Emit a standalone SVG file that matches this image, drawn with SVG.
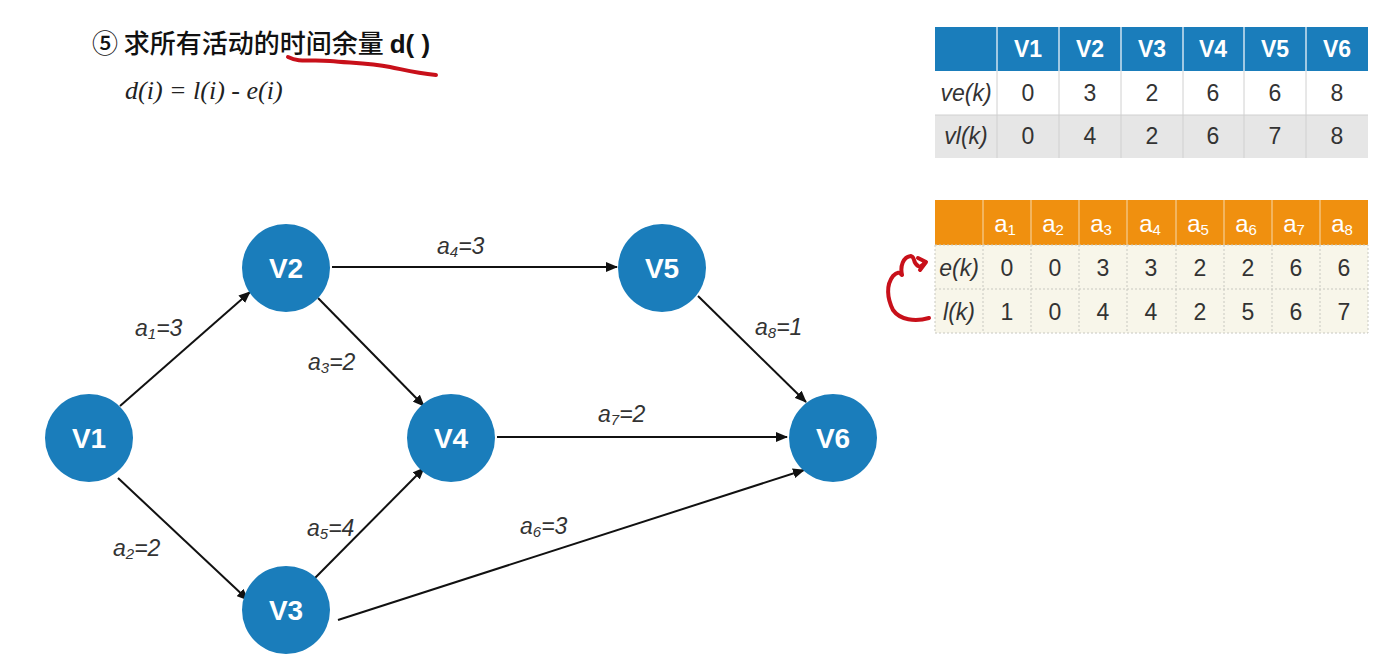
<svg xmlns="http://www.w3.org/2000/svg" width="1398" height="667" viewBox="0 0 1398 667">
<style>
.node{fill:#1a7dbb}
.nl{font-family:"Liberation Sans",Arial,sans-serif;font-weight:bold;font-size:28px;fill:#fff;text-anchor:middle}
.edge{stroke:#111;stroke-width:2;fill:none;marker-end:url(#arr)}
.el{font-family:"Liberation Sans",Arial,sans-serif;font-style:italic;font-size:23px;fill:#333}
.sub{font-size:15px}
.th{font-family:"Liberation Sans",Arial,sans-serif;font-weight:bold;font-size:23px;fill:#fff;text-anchor:middle}
.td{font-family:"Liberation Sans",Arial,sans-serif;font-size:23px;fill:#333;text-anchor:middle}
.tdi{font-family:"Liberation Sans",Arial,sans-serif;font-size:23px;fill:#333;text-anchor:middle;font-style:italic}
.th2{font-family:"Liberation Sans",Arial,sans-serif;font-size:24px;fill:#fff;text-anchor:middle}
.red{stroke:#c8101a;fill:none;stroke-linecap:round;stroke-linejoin:round}
</style>
<defs>
<marker id="arr" markerWidth="12" markerHeight="10" refX="11" refY="5" orient="auto" markerUnits="userSpaceOnUse">
<path d="M0,0 L12,5 L0,10 Z" fill="#111"/>
</marker>
</defs>
<rect width="1398" height="667" fill="#fff"/>

<g id="title">
<text x="92" y="53" font-family="'Noto Sans CJK SC','Liberation Sans',sans-serif" font-size="26" font-weight="500" fill="#111">⑤ 求所有活动的时间余量 <tspan font-family="'Liberation Sans',Arial,sans-serif" font-weight="bold">d( )</tspan></text>
<text x="125" y="99" font-family="'Liberation Serif','Times New Roman',serif" font-style="italic" font-size="26" fill="#222">d(i) = l(i) - e(i)</text>
<path class="red" stroke-width="4" d="M288,57 C300,63 310,59 330,61 C350,63 370,63 390,67 C405,70 415,73 436,75"/>
</g>

<g id="connectors">
<line class="edge" x1="120" y1="406" x2="250" y2="292"/>
<line class="edge" x1="118" y1="478" x2="248" y2="600"/>
<line class="edge" x1="318" y1="298" x2="424" y2="406"/>
<line class="edge" x1="332" y1="267" x2="617" y2="267"/>
<line class="edge" x1="315" y1="578" x2="424" y2="468"/>
<line class="edge" x1="338" y1="620" x2="804" y2="470"/>
<line class="edge" x1="497" y1="437" x2="787" y2="437"/>
<line class="edge" x1="698" y1="296" x2="806" y2="402"/>
<text class="el" x="135" y="336">a<tspan class="sub" dy="3">1</tspan><tspan dy="-3">=3</tspan></text>
<text class="el" x="113" y="556">a<tspan class="sub" dy="3">2</tspan><tspan dy="-3">=2</tspan></text>
<text class="el" x="308" y="370">a<tspan class="sub" dy="3">3</tspan><tspan dy="-3">=2</tspan></text>
<text class="el" x="437" y="254">a<tspan class="sub" dy="3">4</tspan><tspan dy="-3">=3</tspan></text>
<text class="el" x="307" y="536">a<tspan class="sub" dy="3">5</tspan><tspan dy="-3">=4</tspan></text>
<text class="el" x="520" y="534">a<tspan class="sub" dy="3">6</tspan><tspan dy="-3">=3</tspan></text>
<text class="el" x="598" y="422">a<tspan class="sub" dy="3">7</tspan><tspan dy="-3">=2</tspan></text>
<text class="el" x="755" y="335">a<tspan class="sub" dy="3">8</tspan><tspan dy="-3">=1</tspan></text>
</g>

<g id="V1"><circle class="node" cx="89" cy="438" r="44"/><text class="nl" x="89" y="448">V1</text></g>
<g id="V2"><circle class="node" cx="286" cy="268" r="44"/><text class="nl" x="286" y="278">V2</text></g>
<g id="V3"><circle class="node" cx="286" cy="610" r="44"/><text class="nl" x="286" y="620">V3</text></g>
<g id="V4"><circle class="node" cx="451" cy="438" r="44"/><text class="nl" x="451" y="448">V4</text></g>
<g id="V5"><circle class="node" cx="662" cy="268" r="44"/><text class="nl" x="662" y="278">V5</text></g>
<g id="V6"><circle class="node" cx="833" cy="438" r="44"/><text class="nl" x="833" y="448">V6</text></g>

<g id="table-v">
<rect x="935" y="27" width="433" height="44" fill="#1a7dbb"/>
<rect x="935" y="71" width="433" height="44" fill="#fff"/>
<rect x="935" y="115" width="433" height="43" fill="#e6e6e6"/>
<g stroke="#cfe3f0" stroke-width="1.5">
<line x1="997" y1="27" x2="997" y2="71"/><line x1="1059" y1="27" x2="1059" y2="71"/><line x1="1121" y1="27" x2="1121" y2="71"/><line x1="1183" y1="27" x2="1183" y2="71"/><line x1="1244" y1="27" x2="1244" y2="71"/><line x1="1306" y1="27" x2="1306" y2="71"/>
</g>
<g stroke="#d0d0d0" stroke-width="1">
<line x1="997" y1="71" x2="997" y2="158"/><line x1="1059" y1="71" x2="1059" y2="158"/><line x1="1121" y1="71" x2="1121" y2="158"/><line x1="1183" y1="71" x2="1183" y2="158"/><line x1="1244" y1="71" x2="1244" y2="158"/><line x1="1306" y1="71" x2="1306" y2="158"/>
<line x1="935" y1="115" x2="1368" y2="115"/>
</g>
<text class="th" x="1028" y="57">V1</text><text class="th" x="1090" y="57">V2</text><text class="th" x="1152" y="57">V3</text><text class="th" x="1213" y="57">V4</text><text class="th" x="1275" y="57">V5</text><text class="th" x="1337" y="57">V6</text>
<text class="tdi" x="966" y="101">ve(k)</text>
<text class="td" x="1028" y="101">0</text><text class="td" x="1090" y="101">3</text><text class="td" x="1152" y="101">2</text><text class="td" x="1213" y="101">6</text><text class="td" x="1275" y="101">6</text><text class="td" x="1337" y="101">8</text>
<text class="tdi" x="966" y="144">vl(k)</text>
<text class="td" x="1028" y="144">0</text><text class="td" x="1090" y="144">4</text><text class="td" x="1152" y="144">2</text><text class="td" x="1213" y="144">6</text><text class="td" x="1275" y="144">7</text><text class="td" x="1337" y="144">8</text>
</g>

<g id="table-a">
<rect x="935" y="200" width="433" height="45" fill="#f0900f"/>
<rect x="935" y="245" width="433" height="88" fill="#f8f6ea"/>
<g stroke="#f5c27a" stroke-width="1.5">
<line x1="983" y1="200" x2="983" y2="245"/><line x1="1031" y1="200" x2="1031" y2="245"/><line x1="1079" y1="200" x2="1079" y2="245"/><line x1="1127" y1="200" x2="1127" y2="245"/><line x1="1176" y1="200" x2="1176" y2="245"/><line x1="1224" y1="200" x2="1224" y2="245"/><line x1="1272" y1="200" x2="1272" y2="245"/><line x1="1320" y1="200" x2="1320" y2="245"/>
</g>
<g stroke="#c8c8c0" stroke-width="1" stroke-dasharray="2,2">
<line x1="983" y1="245" x2="983" y2="333"/><line x1="1031" y1="245" x2="1031" y2="333"/><line x1="1079" y1="245" x2="1079" y2="333"/><line x1="1127" y1="245" x2="1127" y2="333"/><line x1="1176" y1="245" x2="1176" y2="333"/><line x1="1224" y1="245" x2="1224" y2="333"/><line x1="1272" y1="245" x2="1272" y2="333"/><line x1="1320" y1="245" x2="1320" y2="333"/>
<line x1="935" y1="289" x2="1368" y2="289"/>
<rect x="935" y="245" width="433" height="88" fill="none"/>
</g>
<text class="th2" x="1005" y="232">a<tspan font-size="15" dy="3">1</tspan></text>
<text class="th2" x="1053" y="232">a<tspan font-size="15" dy="3">2</tspan></text>
<text class="th2" x="1101" y="232">a<tspan font-size="15" dy="3">3</tspan></text>
<text class="th2" x="1150" y="232">a<tspan font-size="15" dy="3">4</tspan></text>
<text class="th2" x="1198" y="232">a<tspan font-size="15" dy="3">5</tspan></text>
<text class="th2" x="1246" y="232">a<tspan font-size="15" dy="3">6</tspan></text>
<text class="th2" x="1294" y="232">a<tspan font-size="15" dy="3">7</tspan></text>
<text class="th2" x="1342" y="232">a<tspan font-size="15" dy="3">8</tspan></text>
<text class="tdi" x="959" y="276">e(k)</text>
<text class="td" x="1007" y="276">0</text><text class="td" x="1055" y="276">0</text><text class="td" x="1103" y="276">3</text><text class="td" x="1151" y="276">3</text><text class="td" x="1200" y="276">2</text><text class="td" x="1248" y="276">2</text><text class="td" x="1296" y="276">6</text><text class="td" x="1344" y="276">6</text>
<text class="tdi" x="959" y="320">l(k)</text>
<text class="td" x="1007" y="320">1</text><text class="td" x="1055" y="320">0</text><text class="td" x="1103" y="320">4</text><text class="td" x="1151" y="320">4</text><text class="td" x="1200" y="320">2</text><text class="td" x="1248" y="320">5</text><text class="td" x="1296" y="320">6</text><text class="td" x="1344" y="320">7</text>
</g>

<g id="annotation">
<path class="red" stroke-width="4" d="M929,318 C915,322 900,320 893,310 C887,298 886,285 893,276 C897,272 900,272 901,274"/>
<path class="red" stroke-width="4" d="M902,275 C900,266 903,257 911,256 C916,258 912,262 918,266 C922,268 924,264 925,262"/>
<path class="red" stroke-width="4" d="M918,258 L926,262 L920,270"/>
</g>
</svg>
